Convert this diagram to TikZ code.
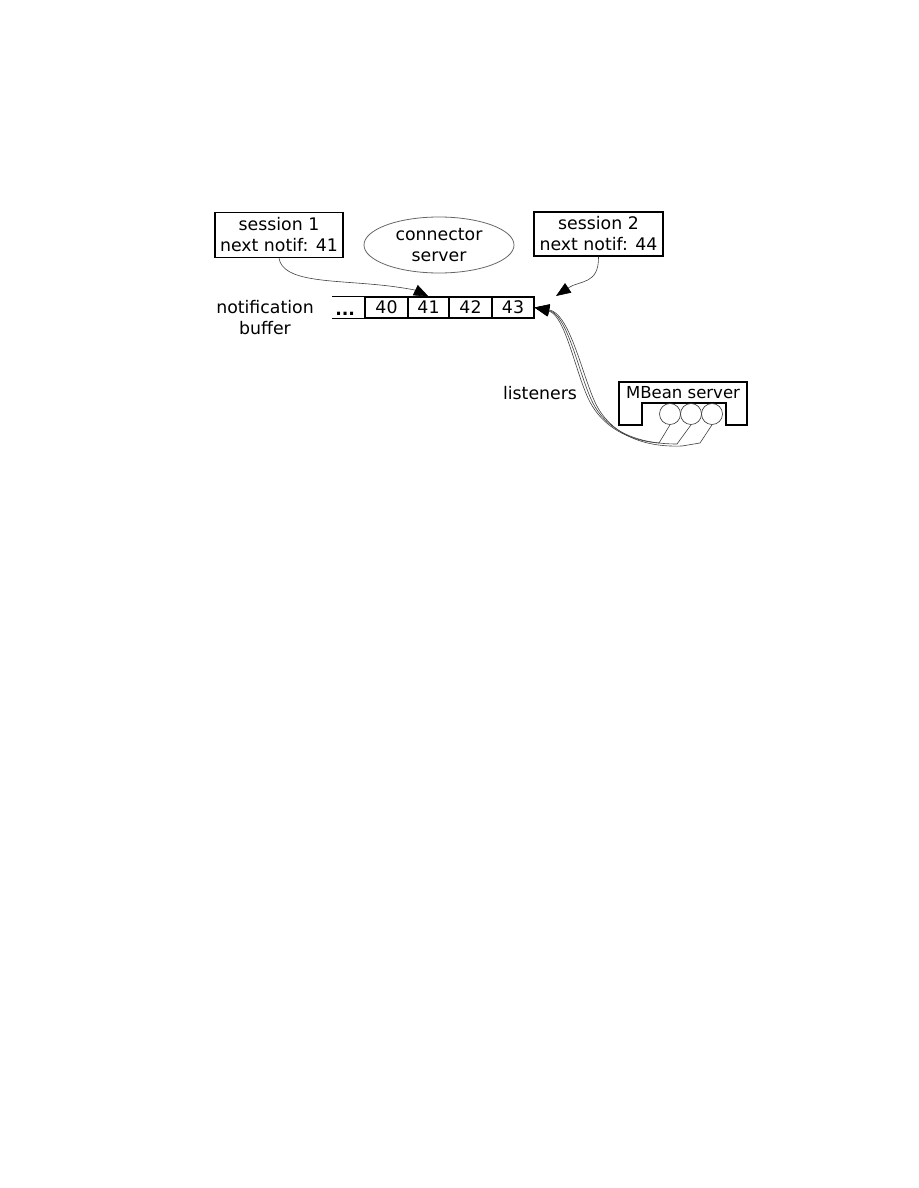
\documentclass[tikz,border=0pt]{standalone}
\usepackage{fontspec}
\setmainfont{DejaVu Sans}
\usetikzlibrary{arrows.meta,shapes.geometric}
\begin{document}
\begin{tikzpicture}[x=0.75pt,y=-0.75pt,
  lbl/.style={font=\fontsize{13}{15.75}\selectfont, align=center, inner sep=0pt},
  sbox/.style={lbl, draw, line width=0.8pt, minimum height=34pt},
  cellbox/.style={lbl, draw, line width=0.8pt, minimum height=15.75pt},
  wire/.style={draw=black!75, line width=0.45pt},
  tipped/.style={-{Triangle[length=11pt,width=8.5pt,color=black]}},
  lis/.style={draw=black!75, line width=0.5pt, circle, minimum size=15.75pt, inner sep=0pt}
]
\useasboundingbox (0,0) rectangle (918,1188);

% sessions and connector server
\node[sbox, minimum width=96pt] (s1) at (279,235) {session 1\\next notif: 41};
\node[sbox, minimum width=96.75pt, minimum height=33pt] (s2) at (598.5,234) {session 2\\next notif: 44};
\node[lbl, ellipse, draw=black!60, line width=0.6pt, minimum width=112.5pt, minimum height=42pt] (cs) at (439,245) {connector\\server};

% notification buffer
\node[lbl] (nb) at (265,318) {notification\\buffer};
\node[cellbox, draw=none, minimum width=24pt] (dots) at (349,307.5) {};
\node[lbl, anchor=south west] (dd) at (335,316) {\textbf{...}};
\node[cellbox, minimum width=32.25pt] (c40) at (386.5,307.5) {40};
\node[cellbox, minimum width=30.75pt] (c41) at (428.5,307.5) {41};
\node[cellbox, minimum width=32.25pt] (c42) at (470.5,307.5) {42};
\node[cellbox, minimum width=31.5pt] (c43) at (513,307.5) {43};
\draw[line width=0.8pt] (dots.north west) -- (dots.north east) (dots.south west) -- (dots.south east);
\coordinate (next44) at (556,296);

% MBean server
\node[lbl, font=\fontsize{12.4}{15}\selectfont] (mb) at (683,393) {MBean server};
\draw[line width=0.8pt] (619,382) -- (747,382) -- (747,425) -- (726,425) -- (726,403) -- (642,403) -- (642,425) -- (619,425) -- cycle;
\node[lis] (l1) at (670,414) {};
\node[lis] (l2) at (691,414) {};
\node[lis] (l3) at (712,414) {};
\node[lbl] (lst) at (540,393) {listeners};

% connectors
\draw[wire, tipped] (s1.south) .. controls (283,282) and (330,280) .. (380,285) .. controls (400,287) and (415,290) .. (c41.north);
\draw[wire, tipped] (s2.south) .. controls (599,285) and (580,280) .. (next44);
\draw[wire, tipped] (l1.south) -- (659,443) .. controls (620,440) and (598,420) .. (588,398) .. controls (575,370) and (565,315) .. (c43.east);
\draw[wire, tipped] (l2.south) -- (677,444) .. controls (625,444) and (601,422) .. (591,399) .. controls (578,370) and (567,314) .. (c43.east);
\draw[wire, tipped] (l3.south) -- (700,443) -- (682,446) .. controls (630,448) and (604,424) .. (594,400) .. controls (581,370) and (569,313) .. (c43.east);
\end{tikzpicture}
\end{document}
